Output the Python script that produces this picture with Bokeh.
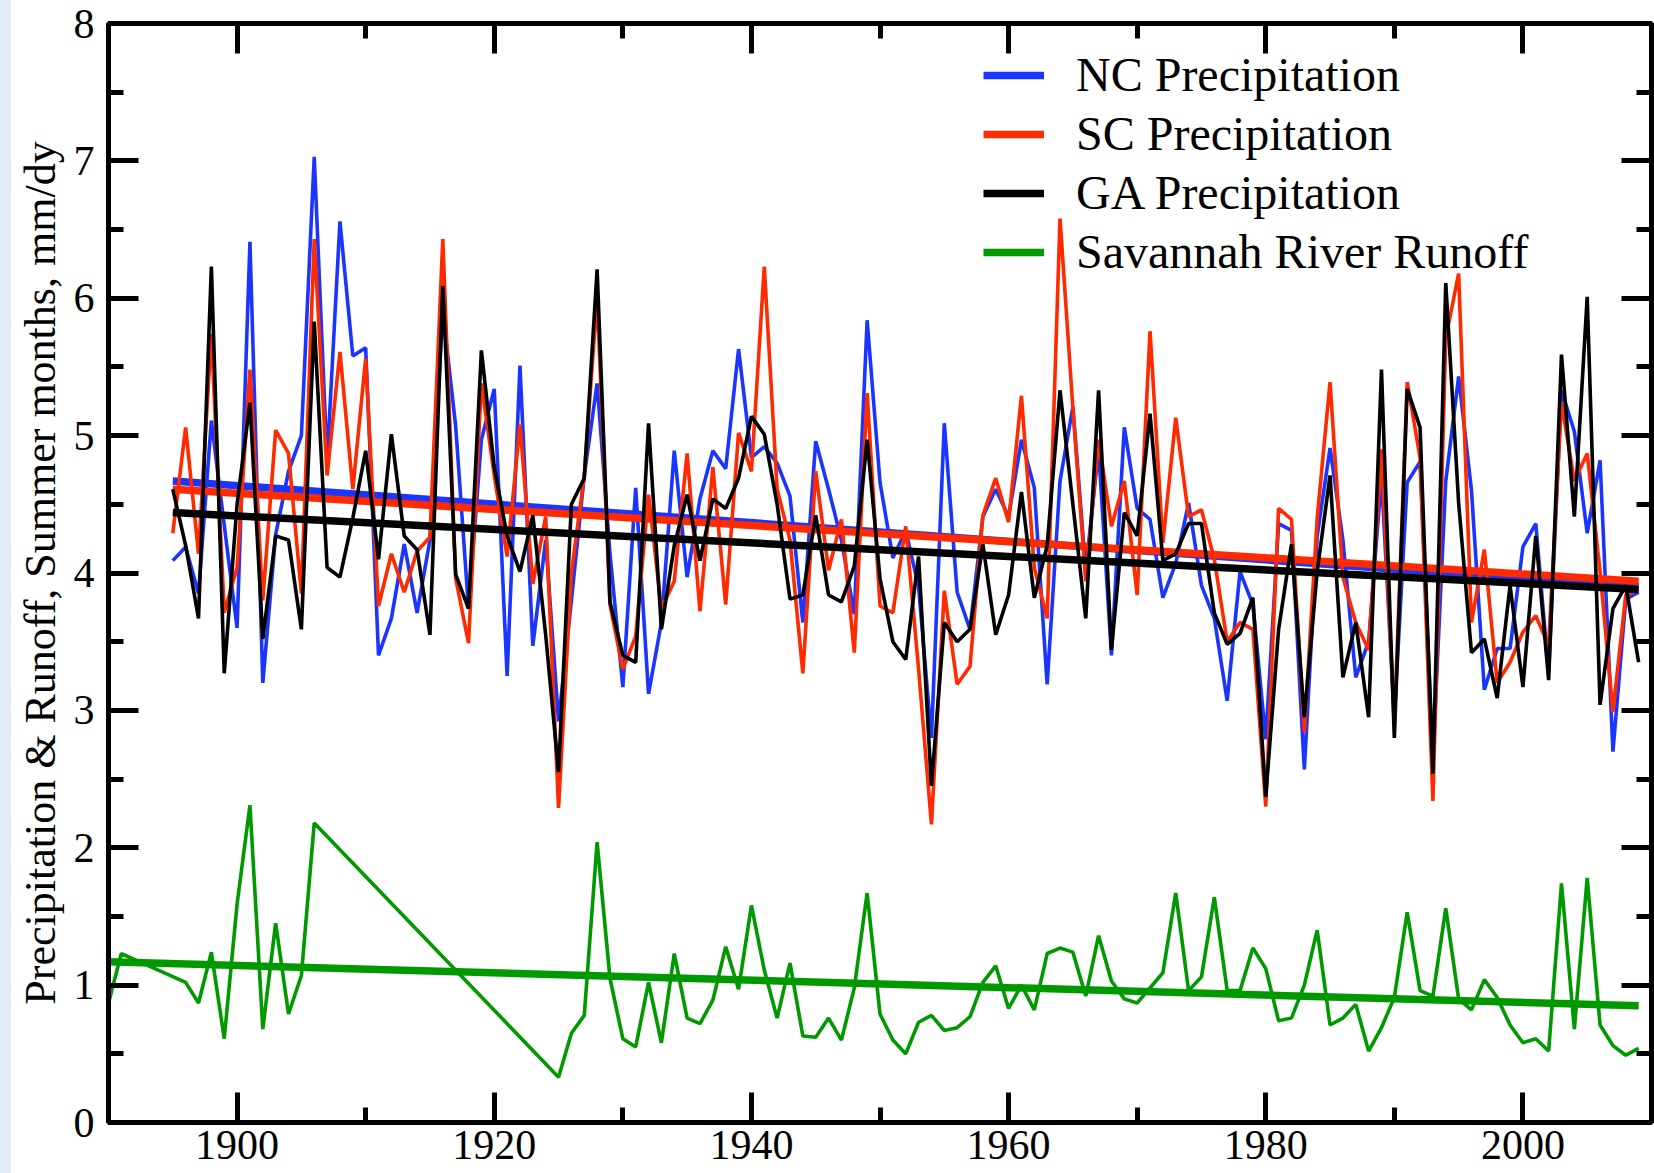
from bokeh.plotting import figure
from bokeh.models import (LinearAxis, SingleIntervalTicker, Legend, LegendItem, Div,
                          CustomJSTickFormatter)
from bokeh.layouts import row
from bokeh.embed import file_html
from bokeh.resources import INLINE

# ---------------- data ----------------
years = list(range(1895, 2010))

nc_precip = [4.09, 4.19, 3.85, 5.11, 4.35, 3.60, 6.41, 3.20, 4.28, 4.74,
             5.00, 7.03, 4.81, 6.56, 5.58, 5.64, 3.40, 3.67, 4.21, 3.71,
             4.24, 5.90, 5.07, 3.74, 4.97, 5.34, 3.25, 5.51, 3.47, 4.24,
             2.92, 3.80, 4.71, 5.38, 4.14, 3.17, 4.62, 3.12, 3.64, 4.89,
             3.97, 4.54, 4.89, 4.76, 5.63, 4.84, 4.92, 4.80, 4.56, 3.64,
             4.96, 4.61, 4.24, 3.70, 5.84, 4.66, 4.11, 4.31, 3.90, 2.80,
             5.09, 3.86, 3.59, 4.41, 4.61, 4.41, 4.97, 4.62, 3.19, 4.67,
             5.21, 4.02, 4.90, 3.40, 5.06, 4.47, 4.39, 3.82, 4.07, 4.51,
             3.91, 3.67, 3.07, 4.01, 3.77, 2.79, 4.36, 4.31, 2.57, 4.27,
             4.91, 4.24, 3.24, 3.50, 4.70, 2.95, 4.66, 4.81, 2.65, 4.67,
             5.43, 4.60, 3.15, 3.45, 3.45, 4.19, 4.36, 3.27, 5.33, 5.03,
             4.29, 4.82, 2.70, 3.81, 3.86]

sc_precip = [4.29, 5.06, 4.14, 5.74, 3.71, 4.04, 5.48, 3.80, 5.04, 4.87,
             3.85, 6.43, 4.71, 5.61, 4.61, 5.56, 3.76, 4.14, 3.86, 4.16,
             4.26, 6.43, 3.96, 3.49, 5.38, 4.71, 4.12, 5.08, 3.92, 4.41,
             2.29, 4.00, 4.71, 6.01, 3.77, 3.30, 3.54, 4.57, 3.74, 3.94,
             4.87, 3.72, 4.77, 3.77, 5.02, 4.74, 6.23, 4.61, 4.24, 3.27,
             4.74, 4.02, 4.39, 3.42, 5.31, 3.76, 3.71, 4.34, 3.30, 2.17,
             3.87, 3.19, 3.32, 4.42, 4.69, 4.37, 5.29, 4.04, 3.67, 6.58,
             5.20, 3.94, 4.97, 4.34, 4.67, 3.84, 5.76, 4.22, 5.13, 4.41,
             4.46, 4.10, 3.50, 3.64, 3.59, 2.30, 4.47, 4.39, 2.84, 4.40,
             5.39, 3.97, 3.64, 3.44, 4.90, 2.90, 5.39, 4.84, 2.34, 5.71,
             6.18, 3.64, 4.17, 3.20, 3.35, 3.57, 3.69, 3.47, 5.24, 4.67,
             4.87, 4.01, 2.99, 3.84, 3.88]

ga_precip = [4.61, 4.20, 3.67, 6.23, 3.27, 4.50, 5.24, 3.52, 4.27, 4.24,
             3.59, 5.83, 4.04, 3.97, 4.40, 4.89, 4.10, 5.01, 4.27, 4.17,
             3.55, 6.09, 3.99, 3.74, 5.62, 4.77, 4.27, 4.01, 4.42, 3.55,
             2.55, 4.50, 4.69, 6.21, 3.79, 3.40, 3.35, 5.09, 3.59, 4.20,
             4.57, 4.09, 4.54, 4.47, 4.69, 5.14, 5.01, 4.50, 3.81, 3.84,
             4.42, 3.84, 3.79, 4.05, 4.97, 3.96, 3.50, 3.37, 4.12, 2.45,
             3.64, 3.50, 3.59, 4.21, 3.55, 3.84, 4.59, 3.82, 4.20, 5.33,
             4.50, 3.67, 5.33, 3.44, 4.44, 4.27, 5.16, 4.09, 4.14, 4.36,
             4.36, 3.71, 3.48, 3.56, 3.82, 2.37, 3.59, 4.21, 2.95, 4.01,
             4.71, 3.24, 3.64, 2.95, 5.48, 2.80, 5.34, 5.06, 2.54, 6.11,
             4.51, 3.42, 3.52, 3.09, 3.91, 3.17, 4.27, 3.22, 5.59, 4.41,
             6.01, 3.04, 3.74, 3.91, 3.35]

runoff_years = [1890, 1891] + list(range(1896, 1907)) + list(range(1925, 2010))
runoff = [0.87, 1.23,
          1.02, 0.87, 1.24, 0.61, 1.59, 2.31, 0.68, 1.45, 0.79, 1.07, 2.18,
          0.33, 0.65, 0.78, 2.04, 1.05, 0.61, 0.55, 1.02, 0.58, 1.23,
          0.76, 0.72, 0.89, 1.28, 0.97, 1.58, 1.11, 0.76, 1.16, 0.63,
          0.62, 0.76, 0.60, 0.98, 1.67, 0.79, 0.60, 0.50, 0.73, 0.78,
          0.67, 0.69, 0.77, 1.02, 1.14, 0.83, 1.00, 0.82, 1.23, 1.27,
          1.24, 0.92, 1.36, 1.03, 0.90, 0.87, 0.98, 1.09, 1.67, 0.96,
          1.06, 1.64, 0.96, 0.96, 1.27, 1.12, 0.74, 0.76, 1.00, 1.40,
          0.71, 0.76, 0.86, 0.52, 0.69, 0.91, 1.53, 0.96, 0.92, 1.56,
          0.90, 0.82, 1.04, 0.91, 0.71, 0.58, 0.61, 0.52, 1.74, 0.68,
          1.78, 0.71, 0.56, 0.49, 0.54]

# linear trend lines (end points)
trend_years = [1895, 2009]
nc_trend = [4.67, 3.90]
sc_trend = [4.61, 3.94]
ga_trend = [4.44, 3.88]
runoff_trend_years = [1890, 2009]
runoff_trend = [1.17, 0.85]

labels = ["NC Precipitation", "SC Precipitation", "GA Precipitation",
          "Savannah River Runoff"]
colors = ["#1a35ff", "#ff2a00", "#000000", "#009900"]

FONT = "Liberation Serif"

# ---------------- figure ----------------
p = figure(frame_width=1543, frame_height=1099,
           x_range=(1890, 2010), y_range=(0, 8),
           min_border_left=97, min_border_right=3, min_border_top=23,
           min_border_bottom=51,
           output_backend="svg", toolbar_location=None,
           x_axis_type=None, y_axis_type=None)
p.xgrid.visible = False
p.ygrid.visible = False
p.outline_line_color = "black"
p.outline_line_width = 5
p.background_fill_color = "white"
p.border_fill_color = "white"

def style_axis(ax, label_size="42px", show=True):
    ax.axis_line_width = 5
    ax.axis_line_color = "black"
    ax.major_tick_line_width = 5
    ax.minor_tick_line_width = 5
    ax.major_tick_line_color = "black"
    ax.minor_tick_line_color = "black"
    ax.major_tick_in = 30
    ax.major_tick_out = 0
    ax.minor_tick_in = 15
    ax.minor_tick_out = 0
    ax.major_label_text_font = FONT
    ax.major_label_text_color = "black"
    if show:
        ax.major_label_text_font_size = label_size
    else:
        ax.major_label_text_font_size = "1px"
        ax.major_label_standoff = 0
        ax.formatter = CustomJSTickFormatter(code="return ''")

xt = SingleIntervalTicker(interval=20, num_minor_ticks=2)
yt = SingleIntervalTicker(interval=1, num_minor_ticks=2)

xb = LinearAxis(ticker=xt)
style_axis(xb)
xb.major_label_standoff = 8
p.add_layout(xb, "below")

yl = LinearAxis(ticker=yt, axis_label="Precipitation & Runoff, Summer months, mm/dy")
style_axis(yl)
yl.major_label_standoff = 14
yl.axis_label_text_font = FONT
yl.axis_label_text_font_size = "44px"
yl.axis_label_text_font_style = "normal"
yl.axis_label_text_color = "black"
yl.axis_label_standoff = 6
p.add_layout(yl, "left")

xa = LinearAxis(ticker=SingleIntervalTicker(interval=20, num_minor_ticks=2))
style_axis(xa, show=False)
p.add_layout(xa, "above")

yr = LinearAxis(ticker=SingleIntervalTicker(interval=1, num_minor_ticks=2))
style_axis(yr, show=False)
p.add_layout(yr, "right")

# ---------------- series ----------------
LW = 3.6
TW = 7.5
r_nc = p.line(years, nc_precip, line_color=colors[0], line_width=LW)
t_nc = p.line(trend_years, nc_trend, line_color=colors[0], line_width=TW)
r_sc = p.line(years, sc_precip, line_color=colors[1], line_width=LW)
t_sc = p.line(trend_years, sc_trend, line_color=colors[1], line_width=TW)
r_ga = p.line(years, ga_precip, line_color=colors[2], line_width=LW)
t_ga = p.line(trend_years, ga_trend, line_color=colors[2], line_width=TW)
r_ro = p.line(runoff_years, runoff, line_color=colors[3], line_width=LW)
t_ro = p.line(runoff_trend_years, runoff_trend, line_color=colors[3], line_width=TW)

legend = Legend(items=[LegendItem(label=labels[0], renderers=[t_nc]),
                       LegendItem(label=labels[1], renderers=[t_sc]),
                       LegendItem(label=labels[2], renderers=[t_ga]),
                       LegendItem(label=labels[3], renderers=[t_ro])],
                location=(875, 843))
legend.label_text_font = FONT
legend.label_text_font_size = "48px"
legend.label_text_color = "black"
legend.glyph_width = 61
legend.glyph_height = 54
legend.label_height = 54
legend.label_standoff = 32
legend.spacing = 4
legend.padding = 0
legend.margin = 0
legend.border_line_color = None
legend.background_fill_alpha = 0
p.add_layout(legend)

strip = Div(text="", width=11, height=1173, margin=(0, 0, 0, 0),
            styles={"background-color": "#dfeef4"})

layout = row(strip, p, spacing=0)

open("out.html", "w").write(file_html(layout, INLINE))
